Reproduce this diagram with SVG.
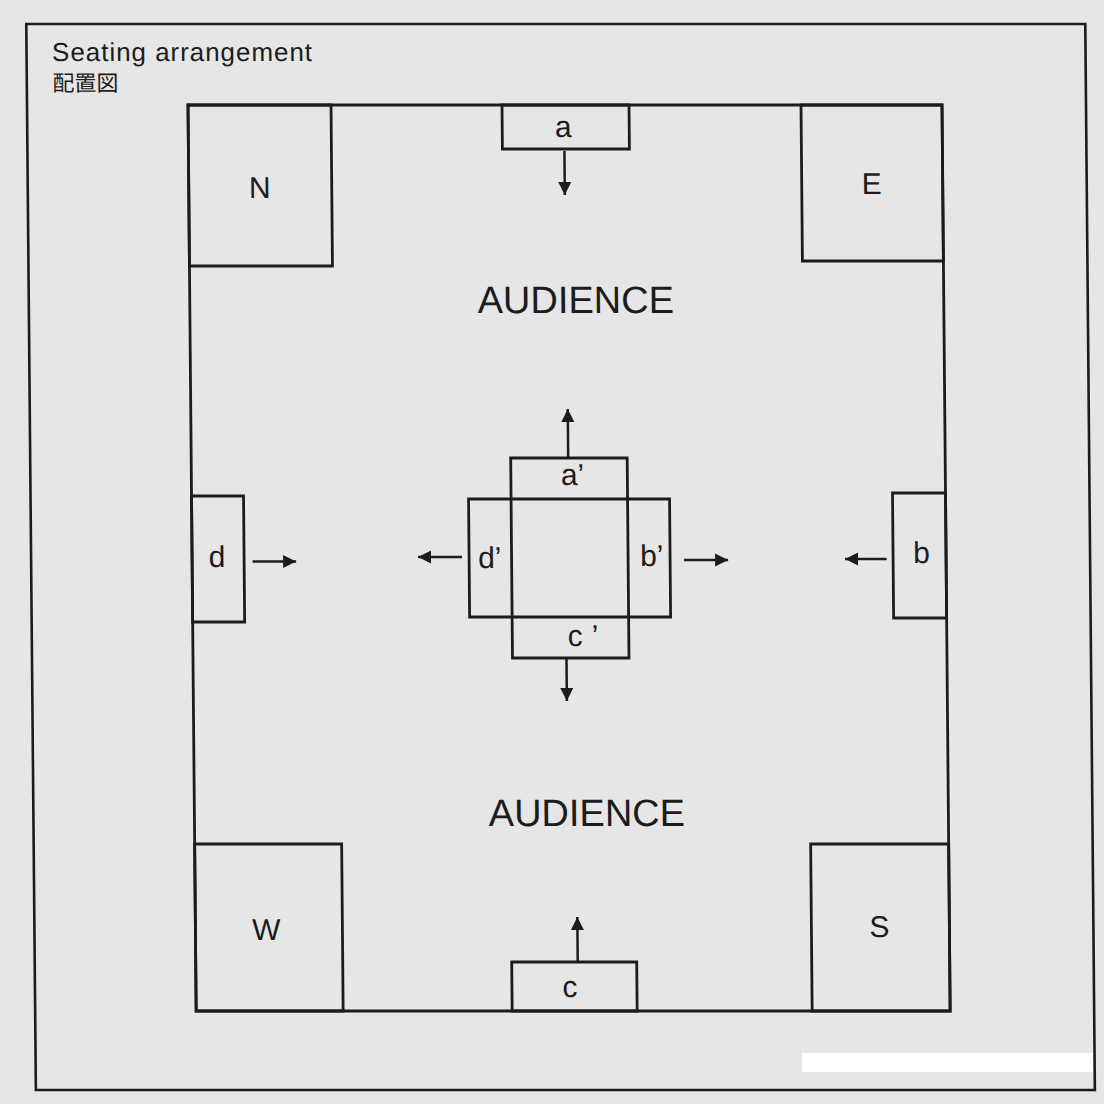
<svg xmlns="http://www.w3.org/2000/svg" width="1104" height="1104" viewBox="0 0 1104 1104">
<style>
.ln{fill:none;stroke:#1c1c1c;stroke-width:2.6}
.bx{fill:none;stroke:#1c1c1c;stroke-width:2.8}
.ar{stroke:#1c1c1c;stroke-width:2.5;fill:none;marker-end:url(#ah)}
.lb{font-family:"Liberation Sans",Arial,sans-serif;font-size:30px;fill:#1c1c1c;text-anchor:middle}
.lp{font-family:"Liberation Sans",Arial,sans-serif;font-size:30px;fill:#1c1c1c}
.au{font-family:"Liberation Sans",Arial,sans-serif;font-size:38px;fill:#1c1c1c;text-anchor:middle}
.tt{font-family:"Liberation Sans",Arial,sans-serif;font-size:26px;fill:#1c1c1c}
.jp{font-family:"Noto Sans CJK JP","Noto Sans CJK SC",sans-serif;font-size:22px;fill:#1c1c1c}
</style>
<defs>
<marker id="ah" markerUnits="userSpaceOnUse" markerWidth="15" markerHeight="15" refX="13" refY="7" orient="auto">
<path d="M0,0.5 L13,7 L0,13.5 z" fill="#1c1c1c"/>
</marker>
</defs>
<rect x="0" y="0" width="1104" height="1104" fill="#e6e6e6"/>
<g transform="matrix(1 0 0.009 1 -0.936 0)">
<g id="frame">
<rect class="ln" x="27" y="24" width="1059" height="1066"/>
</g>
<g id="title">
<text class="tt" x="52.5" y="61" textLength="260" lengthAdjust="spacing">Seating  arrangement</text>
<text class="jp" x="52.5" y="91">配置図</text>
</g>
<g id="room">
<rect class="bx" x="188" y="105" width="754" height="906"/>
</g>
<g id="node-N">
<rect class="bx" x="188" y="105" width="143" height="161"/>
<text class="lb" x="259" y="198.5">N</text>
</g>
<g id="node-E">
<rect class="bx" x="801" y="105" width="141" height="156"/>
<text class="lb" x="871" y="194">E</text>
</g>
<g id="node-W">
<rect class="bx" x="188" y="844" width="147" height="167"/>
<text class="lb" x="259" y="940.5">W</text>
</g>
<g id="node-S">
<rect class="bx" x="804" y="844" width="138" height="167"/>
<text class="lb" x="872" y="937.5">S</text>
</g>
<g id="node-a">
<rect class="bx" x="502" y="105" width="127" height="44"/>
<text class="lb" x="563" y="137">a</text>
</g>
<g id="node-c">
<rect class="bx" x="504" y="962" width="125" height="49"/>
<text class="lb" x="562" y="997">c</text>
</g>
<g id="node-d">
<rect class="bx" x="188" y="496" width="52" height="126"/>
<text class="lb" x="213" y="567">d</text>
</g>
<g id="node-b">
<rect class="bx" x="889" y="493" width="53" height="125"/>
<text class="lb" x="917.5" y="563">b</text>
</g>
<g id="node-center">
<rect class="bx" x="507.5" y="458" width="116.5" height="200"/>
<rect class="bx" x="465" y="499" width="201" height="118"/>
<text class="lp" x="557.5" y="485">a’</text>
<text class="lp" x="474" y="568">d’</text>
<text class="lp" x="636" y="566.5">b’</text>
<text class="lp" x="563" y="646.5">c<tspan dx="9">’</tspan></text>
</g>
<g id="node-audience-top">
<text class="au" x="574" y="313">AUDIENCE</text>
</g>
<g id="node-audience-bottom">
<text class="au" x="580.5" y="826">AUDIENCE</text>
</g>
<g id="connectors">
<line class="ar" x1="564" y1="151" x2="564" y2="195"/>
<line class="ar" x1="570" y1="961" x2="570" y2="917"/>
<line class="ar" x1="248.5" y1="561.5" x2="292" y2="561.5"/>
<line class="ar" x1="882.5" y1="559" x2="841" y2="559"/>
<line class="ar" x1="565" y1="457" x2="565" y2="409"/>
<line class="ar" x1="561.5" y1="659" x2="561.5" y2="701"/>
<line class="ar" x1="458" y1="557" x2="414" y2="557"/>
<line class="ar" x1="680" y1="560" x2="724" y2="560"/>
</g>
</g>
<rect x="802" y="1053" width="291" height="19" fill="#ffffff"/>
</svg>
